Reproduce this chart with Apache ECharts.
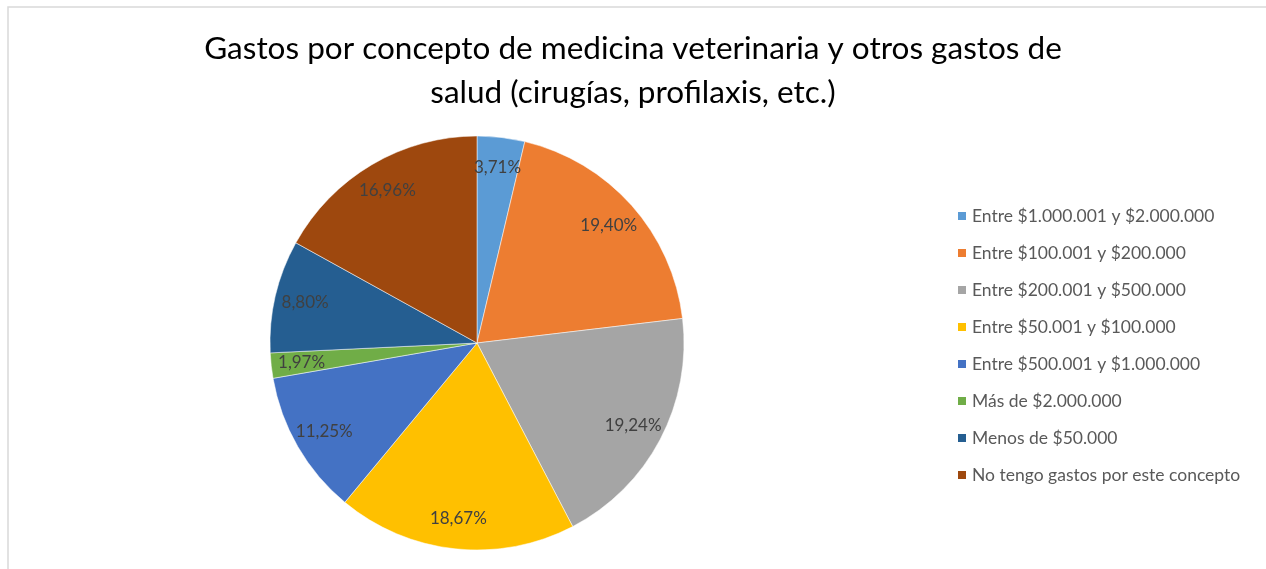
<!DOCTYPE html>
<html>
<head>
<meta charset="utf-8">
<script src="https://cdn.jsdelivr.net/npm/echarts@6/dist/echarts.min.js"></script>
<style>
  html, body { margin: 0; padding: 0; background: #fff; }
  #chart { width: 1266px; height: 569px; }
</style>
</head>
<body>
<div id="chart"></div>
<script>
const categories = [
  'Entre $1.000.001 y $2.000.000',
  'Entre $100.001 y $200.000',
  'Entre $200.001 y $500.000',
  'Entre $50.001 y $100.000',
  'Entre $500.001 y $1.000.000',
  'Más de $2.000.000',
  'Menos de $50.000',
  'No tengo gastos por este concepto'
]
const percentages = [3.71, 19.40, 19.24, 18.67, 11.25, 1.97, 8.80, 16.96]
const colors = ['#5B9BD5', '#ED7D31', '#A5A5A5', '#FFC000', '#4472C4', '#70AD47', '#255E91', '#9E480E']

const font = 'Lato, "Open Sans", sans-serif'
const pieData = categories.map((name, i) => ({ name: name, value: percentages[i] }))

let myChart = echarts.init(document.getElementById('chart'))

myChart.setOption({
  animation: false,
  color: colors,
  title: {
    text: 'Gastos por concepto de medicina veterinaria y otros gastos de\nsalud (cirugías, profilaxis, etc.)',
    left: 'center',
    top: 22,
    textStyle: { fontFamily: font, fontSize: 31.5, fontWeight: 'normal', color: '#000', lineHeight: 44 }
  },
  legend: {
    orient: 'vertical',
    left: 951,
    top: 202,
    itemWidth: 10,
    itemHeight: 10,
    itemGap: 19,
    icon: 'rect',
    data: categories,
    textStyle: { fontFamily: font, fontSize: 17.5, color: '#595959', lineHeight: 17 }
  },
  graphic: [{
    type: 'rect',
    shape: { x: 8, y: 7, width: 1300, height: 600 },
    style: { fill: 'none', stroke: '#d9d9d9', lineWidth: 1.5 },
    silent: true,
    z: -10
  }],
  series: [
    {
      type: 'pie',
      center: [477, 343],
      radius: [0, 207],
      startAngle: 90,
      clockwise: true,
      label: { show: false },
      labelLine: { show: false },
      itemStyle: { borderColor: '#fff', borderWidth: 0.5 },
      data: pieData
    },
    {
      // transparent ring used only to place labels near the outer edge
      type: 'pie',
      center: [477, 343],
      radius: [140, 207],
      startAngle: 90,
      clockwise: true,
      silent: true,
      itemStyle: { color: 'transparent', borderWidth: 0 },
      label: {
        show: true,
        position: 'inside',
        fontFamily: font,
        fontSize: 17,
        color: '#404040',
        formatter: p => p.value.toFixed(2).replace('.', ',') + '%'
      },
      labelLine: { show: false },
      data: pieData
    }
  ]
})
</script>
</body>
</html>
